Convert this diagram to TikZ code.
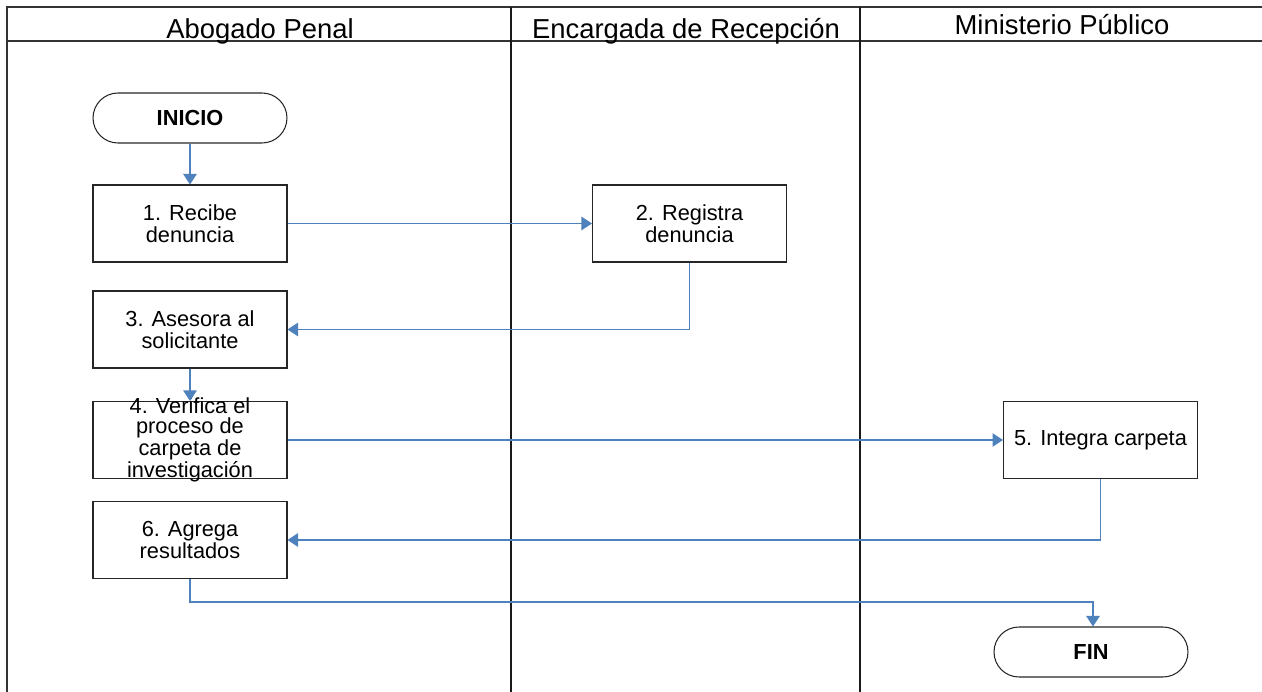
\documentclass[tikz,border=0pt]{standalone}
\usepackage{fontspec}
\setmainfont{Liberation Sans}
\usetikzlibrary{arrows.meta}
\definecolor{flujo}{RGB}{79,129,189}
\tikzset{
  caja/.style={draw=black!85,line width=0.6pt,minimum width=3.88cm,minimum height=1.54cm,align=center,inner sep=0pt,font=\fontsize{12.4}{12.2}\selectfont},
  terminal/.style={draw=black!85,line width=0.6pt,rounded corners=0.5cm,minimum width=3.88cm,minimum height=1cm,inner sep=0pt,font=\fontsize{12.4}{14}\selectfont\bfseries},
  carril/.style={font=\fontsize{15.6}{18}\selectfont,anchor=base},
  flecha/.style={draw=flujo,line width=0.6pt,-{Triangle[length=2.1mm,width=2.7mm]}}
}
\begin{document}
\begin{tikzpicture}[x=0.02cm,y=-0.02cm]
\useasboundingbox (0,0) rectangle (1262,692);
% carriles
\draw[black!80,line width=0.6pt](1262,7)--(7,7)--(7,692);
\draw[black!80,line width=0.6pt](7,41)--(1262,41);
\draw[black!90,line width=0.6pt](511,7)--(511,692);
\draw[black!90,line width=0.6pt](860,7)--(860,692);
\node[carril] (abogado) at (260,39) {Abogado Penal};
\node[carril] (recepcion) at (686,39) {Encargada de Recepción};
\node[carril] (ministerio) at (1062,35) {Ministerio Público};
% pasos
\node[terminal] (inicio) at (190,118) {INICIO};
\node[caja] (p1) at (190,223.5) {1. Recibe\\denuncia};
\node[caja] (p2) at (689.5,223.5) {2. Registra\\denuncia};
\node[caja] (p3) at (190,329.5) {3. Asesora al\\solicitante};
\node[caja,inner ysep=-3pt,font=\fontsize{12.4}{11.5}\selectfont] (p4) at (190,440) {4. Verifica el\\proceso de\\carpeta de\\investigación};
\node[caja] (p5) at (1100.5,440) {5. Integra carpeta};
\node[caja] (p6) at (190,540) {6. Agrega\\resultados};
\node[terminal] (fin) at (1091,652) {FIN};
\coordinate (c6) at (190,602);
\coordinate (cfin) at (1093,602);
% flujo
\draw[flecha](inicio)--(p1);
\draw[flecha](p1)--(p2);
\draw[flecha](p2.south)|-(p3.east);
\draw[flecha](p3)--(p4);
\draw[flecha](p4)--(p5);
\draw[flecha](p5.south)|-(p6.east);
\draw[flecha](p6.south)--(c6)--(cfin)--(fin.north-|cfin);
\end{tikzpicture}
\end{document}
